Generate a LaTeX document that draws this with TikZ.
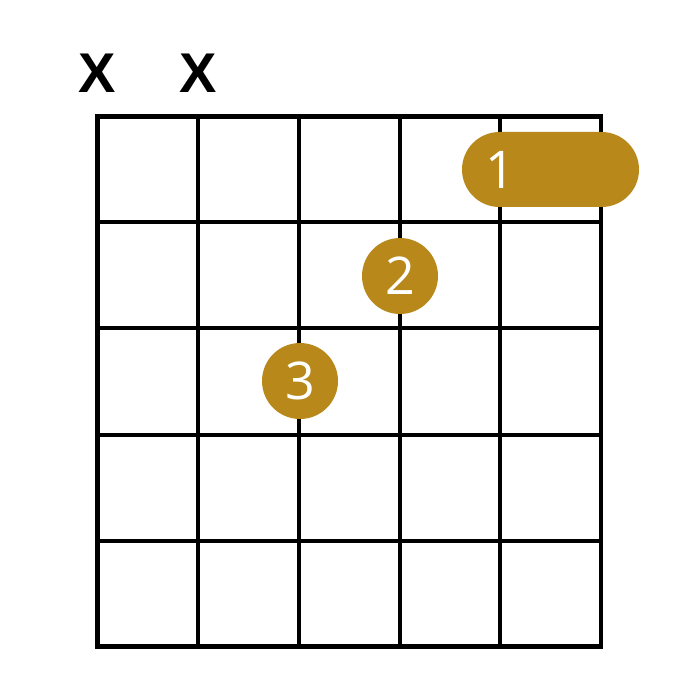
\documentclass[tikz,border=0pt]{standalone}
\usepackage{fontspec}
\setmainfont{Open Sans}
\newfontfamily\xfont{Liberation Sans}
\definecolor{gold}{HTML}{B8891A}
\begin{document}
\begin{tikzpicture}[x=1pt,y=-1pt,
  grid/.style={line width=4.2pt,line cap=rect},
  digit/.style={text=white,font=\fontsize{52}{52}\selectfont},
  dot/.style={circle,fill=gold,minimum size=76pt,inner sep=0pt,digit},
  mute/.style={font=\xfont\bfseries\fontsize{56}{56}\selectfont,inner sep=0pt}]
\useasboundingbox (0,0) rectangle (700,700);
\fill[white] (0,0) rectangle (700,700);
% grid
\foreach \i in {0,...,5} {
  \draw[grid] (97.5+\i*100.7,116.5) -- (97.5+\i*100.7,646.5);
}
\foreach \y in {116.5,222,328,435,541,646.5} {
  \draw[grid] (97.5,\y) -- (601,\y);
}
% muted strings
\node[mute] (x1) at (97.5,73) {X};
\node[mute] (x2) at (198.2,73) {X};
% barre
\fill[gold,rounded corners=37.5pt] (462,132) rectangle (639,207);
\node[digit] (f1) at (500,170) {1};
% fingers
\node[dot] (f2) at (400,276) {2};
\node[dot] (f3) at (300,381) {3};
\end{tikzpicture}
\end{document}
